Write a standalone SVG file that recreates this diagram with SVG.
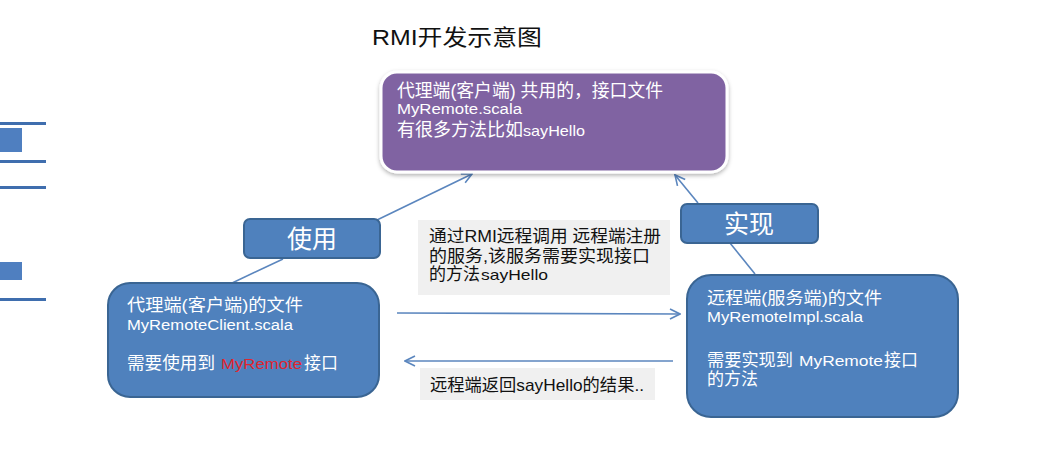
<svg xmlns="http://www.w3.org/2000/svg" width="1062" height="457" viewBox="0 0 1062 457">
<style>
  text { font-family: "Liberation Sans", "Noto Sans CJK SC", sans-serif; }
  .w { fill: #ffffff; }
  .k { fill: #111111; }
  .blue { fill: #4F81BD; stroke: #3A6593; stroke-width: 2; }
  .lbl { fill: #F0F0F0; }
  .conn { stroke: #5B86BE; stroke-width: 1.6; fill: none; }
  .side { fill: #3F6EAE; }
</style>
<defs>
  <marker id="ah" viewBox="0 0 12 12" refX="11" refY="6" markerWidth="12" markerHeight="12" markerUnits="userSpaceOnUse" orient="auto">
    <path d="M1,1 L11,6 L1,11" fill="none" stroke="#5B86BE" stroke-width="1.6"/>
  </marker>
  <filter id="sh" x="-10%" y="-10%" width="120%" height="130%">
    <feDropShadow dx="0" dy="2" stdDeviation="2" flood-color="#000" flood-opacity="0.3"/>
  </filter>
</defs>
<rect width="1062" height="457" fill="#ffffff"/>

<!-- left strip remnants -->
<g id="side">
  <rect x="0" y="122" width="46" height="3" class="side"/>
  <rect x="0" y="128" width="22" height="24" fill="#4F7FC0"/>
  <rect x="0" y="160" width="46" height="3" class="side"/>
  <rect x="0" y="186" width="46" height="3" class="side"/>
  <rect x="0" y="262" width="22" height="18" fill="#4F7FC0"/>
  <rect x="0" y="298" width="46" height="3" class="side"/>
</g>

<text x="372" y="45" font-size="22" fill="#111" textLength="170" lengthAdjust="spacingAndGlyphs">RMI开发示意图</text>

<g id="connectors">
  <line x1="230" y1="284" x2="283" y2="259" class="conn"/>
  <line x1="377" y1="220" x2="472" y2="174" class="conn" marker-end="url(#ah)"/>
  <line x1="755" y1="274" x2="730" y2="243" class="conn"/>
  <line x1="698" y1="203" x2="675" y2="175" class="conn" marker-end="url(#ah)"/>
  <line x1="397" y1="313" x2="680" y2="314" class="conn" marker-end="url(#ah)"/>
  <line x1="673" y1="361" x2="405" y2="361" class="conn" marker-end="url(#ah)"/>
</g>

<g id="interface">
  <rect x="381" y="72" width="346" height="100" rx="16" fill="#8064A2" stroke="#ffffff" stroke-width="3" filter="url(#sh)"/>
  <text x="397" y="97" font-size="18" class="w" textLength="266" lengthAdjust="spacingAndGlyphs">代理端(客户端) 共用的，接口文件</text>
  <text x="397" y="114" font-size="14" class="w" textLength="125" lengthAdjust="spacingAndGlyphs">MyRemote.scala</text>
  <text x="397" y="136" font-size="18" class="w">有很多方法比如</text>
  <text x="523" y="136" font-size="15" class="w" textLength="62" lengthAdjust="spacingAndGlyphs">sayHello</text>
</g>

<g id="use">
  <rect x="244" y="219" width="136" height="39" rx="6" class="blue"/>
  <text x="312" y="248" font-size="25" class="w" text-anchor="middle">使用</text>
</g>

<g id="impl">
  <rect x="681" y="204" width="137" height="39" rx="6" class="blue"/>
  <text x="749" y="233" font-size="25" class="w" text-anchor="middle">实现</text>
</g>

<g id="client">
  <rect x="108" y="283" width="271" height="114" rx="22" class="blue"/>
  <text x="127" y="311" font-size="16.5" class="w" textLength="176" lengthAdjust="spacingAndGlyphs">代理端(客户端)的文件</text>
  <text x="127" y="330" font-size="14" class="w" textLength="166" lengthAdjust="spacingAndGlyphs">MyRemoteClient.scala</text>
  <text x="127" y="369" font-size="17" class="w" textLength="88" lengthAdjust="spacingAndGlyphs">需要使用到</text>
  <text x="221" y="369" font-size="14" fill="#E0242E" textLength="81" lengthAdjust="spacingAndGlyphs">MyRemote</text>
  <text x="304" y="369" font-size="17" class="w">接口</text>
</g>

<g id="server">
  <rect x="687" y="275" width="271" height="142" rx="24" class="blue"/>
  <text x="707" y="304" font-size="16.5" class="w" textLength="175" lengthAdjust="spacingAndGlyphs">远程端(服务端)的文件</text>
  <text x="707" y="322" font-size="14" class="w" textLength="156" lengthAdjust="spacingAndGlyphs">MyRemoteImpl.scala</text>
  <text x="707" y="366" font-size="17" class="w" textLength="86" lengthAdjust="spacingAndGlyphs">需要实现到</text>
  <text x="799" y="366" font-size="14" class="w" textLength="84" lengthAdjust="spacingAndGlyphs">MyRemote</text>
  <text x="884" y="366" font-size="17" class="w">接口</text>
  <text x="707" y="385" font-size="17" class="w">的方法</text>
</g>

<g id="call-label">
  <rect x="418" y="220" width="252" height="75" class="lbl"/>
  <text x="429" y="242" font-size="17" class="k" textLength="232" lengthAdjust="spacingAndGlyphs">通过RMI远程调用 远程端注册</text>
  <text x="429" y="262" font-size="17" class="k" textLength="221" lengthAdjust="spacingAndGlyphs">的服务,该服务需要实现接口</text>
  <text x="429" y="280" font-size="17" class="k">的方法</text>
  <text x="481" y="280" font-size="15" class="k" textLength="67" lengthAdjust="spacingAndGlyphs">sayHello</text>
</g>

<g id="return-label">
  <rect x="420" y="368" width="235" height="32" class="lbl"/>
  <text x="430" y="391" font-size="17" class="k" textLength="214" lengthAdjust="spacingAndGlyphs">远程端返回sayHello的结果..</text>
</g>
</svg>
